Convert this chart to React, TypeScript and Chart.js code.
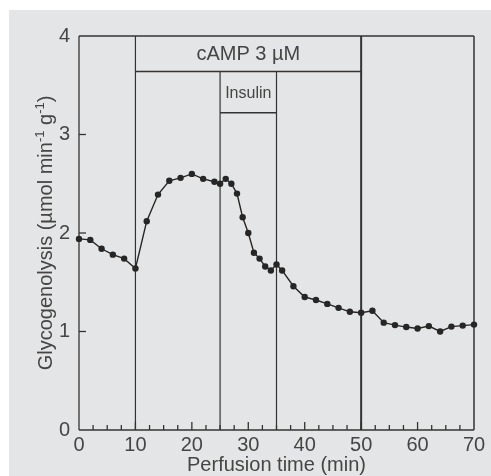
import React, { useEffect, useRef } from "react";
import { Chart, registerables } from "chart.js";

Chart.register(...registerables);

// Perfusion time (min)
const times = [0, 2, 4, 6, 8, 10, 12, 14, 16, 18, 20, 22, 24, 25, 26, 27, 28, 29, 30, 31, 32, 33, 34, 35, 36, 38, 40, 42, 44, 46, 48, 50, 52, 54, 56, 58, 60, 62, 64, 66, 68, 70];
// Glycogenolysis (µmol min-1 g-1)
const glycogenolysis = [1.94, 1.93, 1.84, 1.78, 1.74, 1.64, 2.12, 2.39, 2.53, 2.56, 2.6, 2.55, 2.52, 2.5, 2.55, 2.5, 2.4, 2.16, 2.0, 1.8, 1.74, 1.66, 1.62, 1.68, 1.62, 1.46, 1.35, 1.32, 1.28, 1.24, 1.2, 1.19, 1.21, 1.09, 1.065, 1.045, 1.03, 1.055, 1.0, 1.05, 1.06, 1.07];

const xTicks = [0, 10, 20, 30, 40, 50, 60, 70];
const yTicks = [0, 1, 2, 3, 4];

// treatment periods (min) and bracket levels
const campPeriod = [10, 50];
const campLevel = 3.64;
const campLabel = "cAMP 3 µM";
const insulinPeriod = [25, 35];
const insulinLevel = 3.22;
const insulinLabel = "Insulin";

const xTitle = "Perfusion time (min)";
const yTitleParts = [
  { t: "Glycogenolysis (µmol min", sup: false },
  { t: "-1", sup: true },
  { t: " g", sup: false },
  { t: "-1", sup: true },
  { t: ")", sup: false },
];

const FONT = "'Liberation Sans', Arial, sans-serif";
const TEXT = "#454545";
const INK = "#262626";

const decorPlugin = {
  id: "decor",
  beforeDraw(chart: any) {
    const { ctx, width, height } = chart;
    ctx.save();
    ctx.fillStyle = "#ffffff";
    ctx.fillRect(0, 0, width, height);
    ctx.fillStyle = "#e4e5e6";
    ctx.fillRect(9, 10, width - 9, height - 10);
    ctx.restore();
  },
  beforeDatasetsDraw(chart: any) {
    const { ctx } = chart;
    const xs = chart.scales.x;
    const ys = chart.scales.y;
    const X = (v: number) => xs.getPixelForValue(v);
    const Y = (v: number) => ys.getPixelForValue(v);
    const xmin = xs.min, xmax = xs.max, ymin = ys.min, ymax = ys.max;
    ctx.save();
    ctx.strokeStyle = "#333333";
    const line = (x1: number, y1: number, x2: number, y2: number, w: number) => {
      ctx.lineWidth = w;
      ctx.beginPath();
      ctx.moveTo(x1, y1);
      ctx.lineTo(x2, y2);
      ctx.stroke();
    };
    // frame
    line(X(xmin), Y(ymax), X(xmax), Y(ymax), 1.5);
    line(X(xmin), Y(ymin), X(xmax), Y(ymin), 1.5);
    line(X(xmin), Y(ymin), X(xmin), Y(ymax), 1.3);
    line(X(xmax), Y(ymin), X(xmax), Y(ymax), 1.5);
    // cAMP period
    line(X(campPeriod[0]), Y(ymin), X(campPeriod[0]), Y(ymax), 1.2);
    line(X(campPeriod[1]), Y(ymin), X(campPeriod[1]), Y(ymax), 2);
    line(X(campPeriod[0]), Y(campLevel), X(campPeriod[1]), Y(campLevel), 1.5);
    // insulin period
    line(X(insulinPeriod[0]), Y(ymin), X(insulinPeriod[0]), Y(campLevel), 1.2);
    line(X(insulinPeriod[1]), Y(ymin), X(insulinPeriod[1]), Y(campLevel), 1.2);
    line(X(insulinPeriod[0]), Y(insulinLevel), X(insulinPeriod[1]), Y(insulinLevel), 1.5);
    // x minor ticks (inward)
    for (let t = 2.5; t < xmax; t += 2.5) {
      const major = Math.abs(t % 10) < 1e-6;
      line(X(t), Y(ymin), X(t), Y(ymin) - (major ? 8 : 5), 1.3);
    }
    // y ticks (inward)
    for (const v of yTicks) {
      if (v === ymin || v === ymax) continue;
      line(X(xmin), Y(v), X(xmin) + 7, Y(v), 1.3);
    }
    // labels
    ctx.fillStyle = TEXT;
    ctx.textAlign = "center";
    ctx.textBaseline = "middle";
    ctx.font = `20px ${FONT}`;
    const cx = X((campPeriod[0] + campPeriod[1]) / 2);
    ctx.fillText(campLabel, cx, (Y(ymax) + Y(campLevel)) / 2 + 1);
    ctx.font = `16px ${FONT}`;
    const ix = X((insulinPeriod[0] + insulinPeriod[1]) / 2);
    ctx.fillText(insulinLabel, ix, (Y(campLevel) + Y(insulinLevel)) / 2 + 1);
    // x title
    ctx.font = `20px ${FONT}`;
    ctx.fillText(xTitle, (chart.chartArea.left + chart.chartArea.right) / 2, 465);
    // y title with superscripts
    ctx.save();
    ctx.translate(46, (chart.chartArea.top + chart.chartArea.bottom) / 2);
    ctx.rotate(-Math.PI / 2);
    const normal = `20px ${FONT}`;
    const small = `13px ${FONT}`;
    let total = 0;
    for (const p of yTitleParts) {
      ctx.font = p.sup ? small : normal;
      total += ctx.measureText(p.t).width;
    }
    let pos = -total / 2;
    ctx.textAlign = "left";
    for (const p of yTitleParts) {
      ctx.font = p.sup ? small : normal;
      ctx.fillText(p.t, pos, p.sup ? -6 : 0);
      pos += ctx.measureText(p.t).width;
    }
    ctx.restore();
    ctx.restore();
  },
};

export default function App() {
  const ref = useRef<HTMLCanvasElement>(null);
  useEffect(() => {
    if (!ref.current) return;
    const chart = new Chart(ref.current, {
      type: "line",
      data: {
        datasets: [
          {
            data: times.map((t, i) => ({ x: t, y: glycogenolysis[i] })),
            borderColor: INK,
            backgroundColor: INK,
            borderWidth: 1.4,
            pointRadius: 3.2,
            pointBorderWidth: 0,
            pointBackgroundColor: INK,
            tension: 0,
            fill: false,
            clip: false,
          },
        ],
      },
      options: {
        responsive: false,
        animation: false,
        events: [],
        layout: { padding: { left: 0, top: 36, right: 17, bottom: 0 } },
        plugins: { legend: { display: false }, tooltip: { enabled: false }, title: { display: false } },
        scales: {
          x: {
            type: "linear",
            min: 0,
            max: 70,
            afterFit: (s: any) => { s.height = 46; },
            afterBuildTicks: (s: any) => { s.ticks = xTicks.map((v) => ({ value: v })); },
            grid: { display: false, drawTicks: false },
            border: { display: false },
            ticks: { padding: 3, color: TEXT, font: { size: 20, family: FONT }, maxRotation: 0, autoSkip: false },
          },
          y: {
            type: "linear",
            min: 0,
            max: 4,
            afterFit: (s: any) => { s.width = 79; },
            afterBuildTicks: (s: any) => { s.ticks = yTicks.map((v) => ({ value: v })); },
            grid: { display: false, drawTicks: false },
            border: { display: false },
            ticks: { padding: 9, color: TEXT, font: { size: 20, family: FONT } },
          },
        },
      },
      plugins: [decorPlugin],
    });
    return () => chart.destroy();
  }, []);
  return (
    <div style={{ position: "fixed", left: 0, top: 0 }}>
      <canvas ref={ref} width={491} height={476} style={{ display: "block" }} />
    </div>
  );
}
